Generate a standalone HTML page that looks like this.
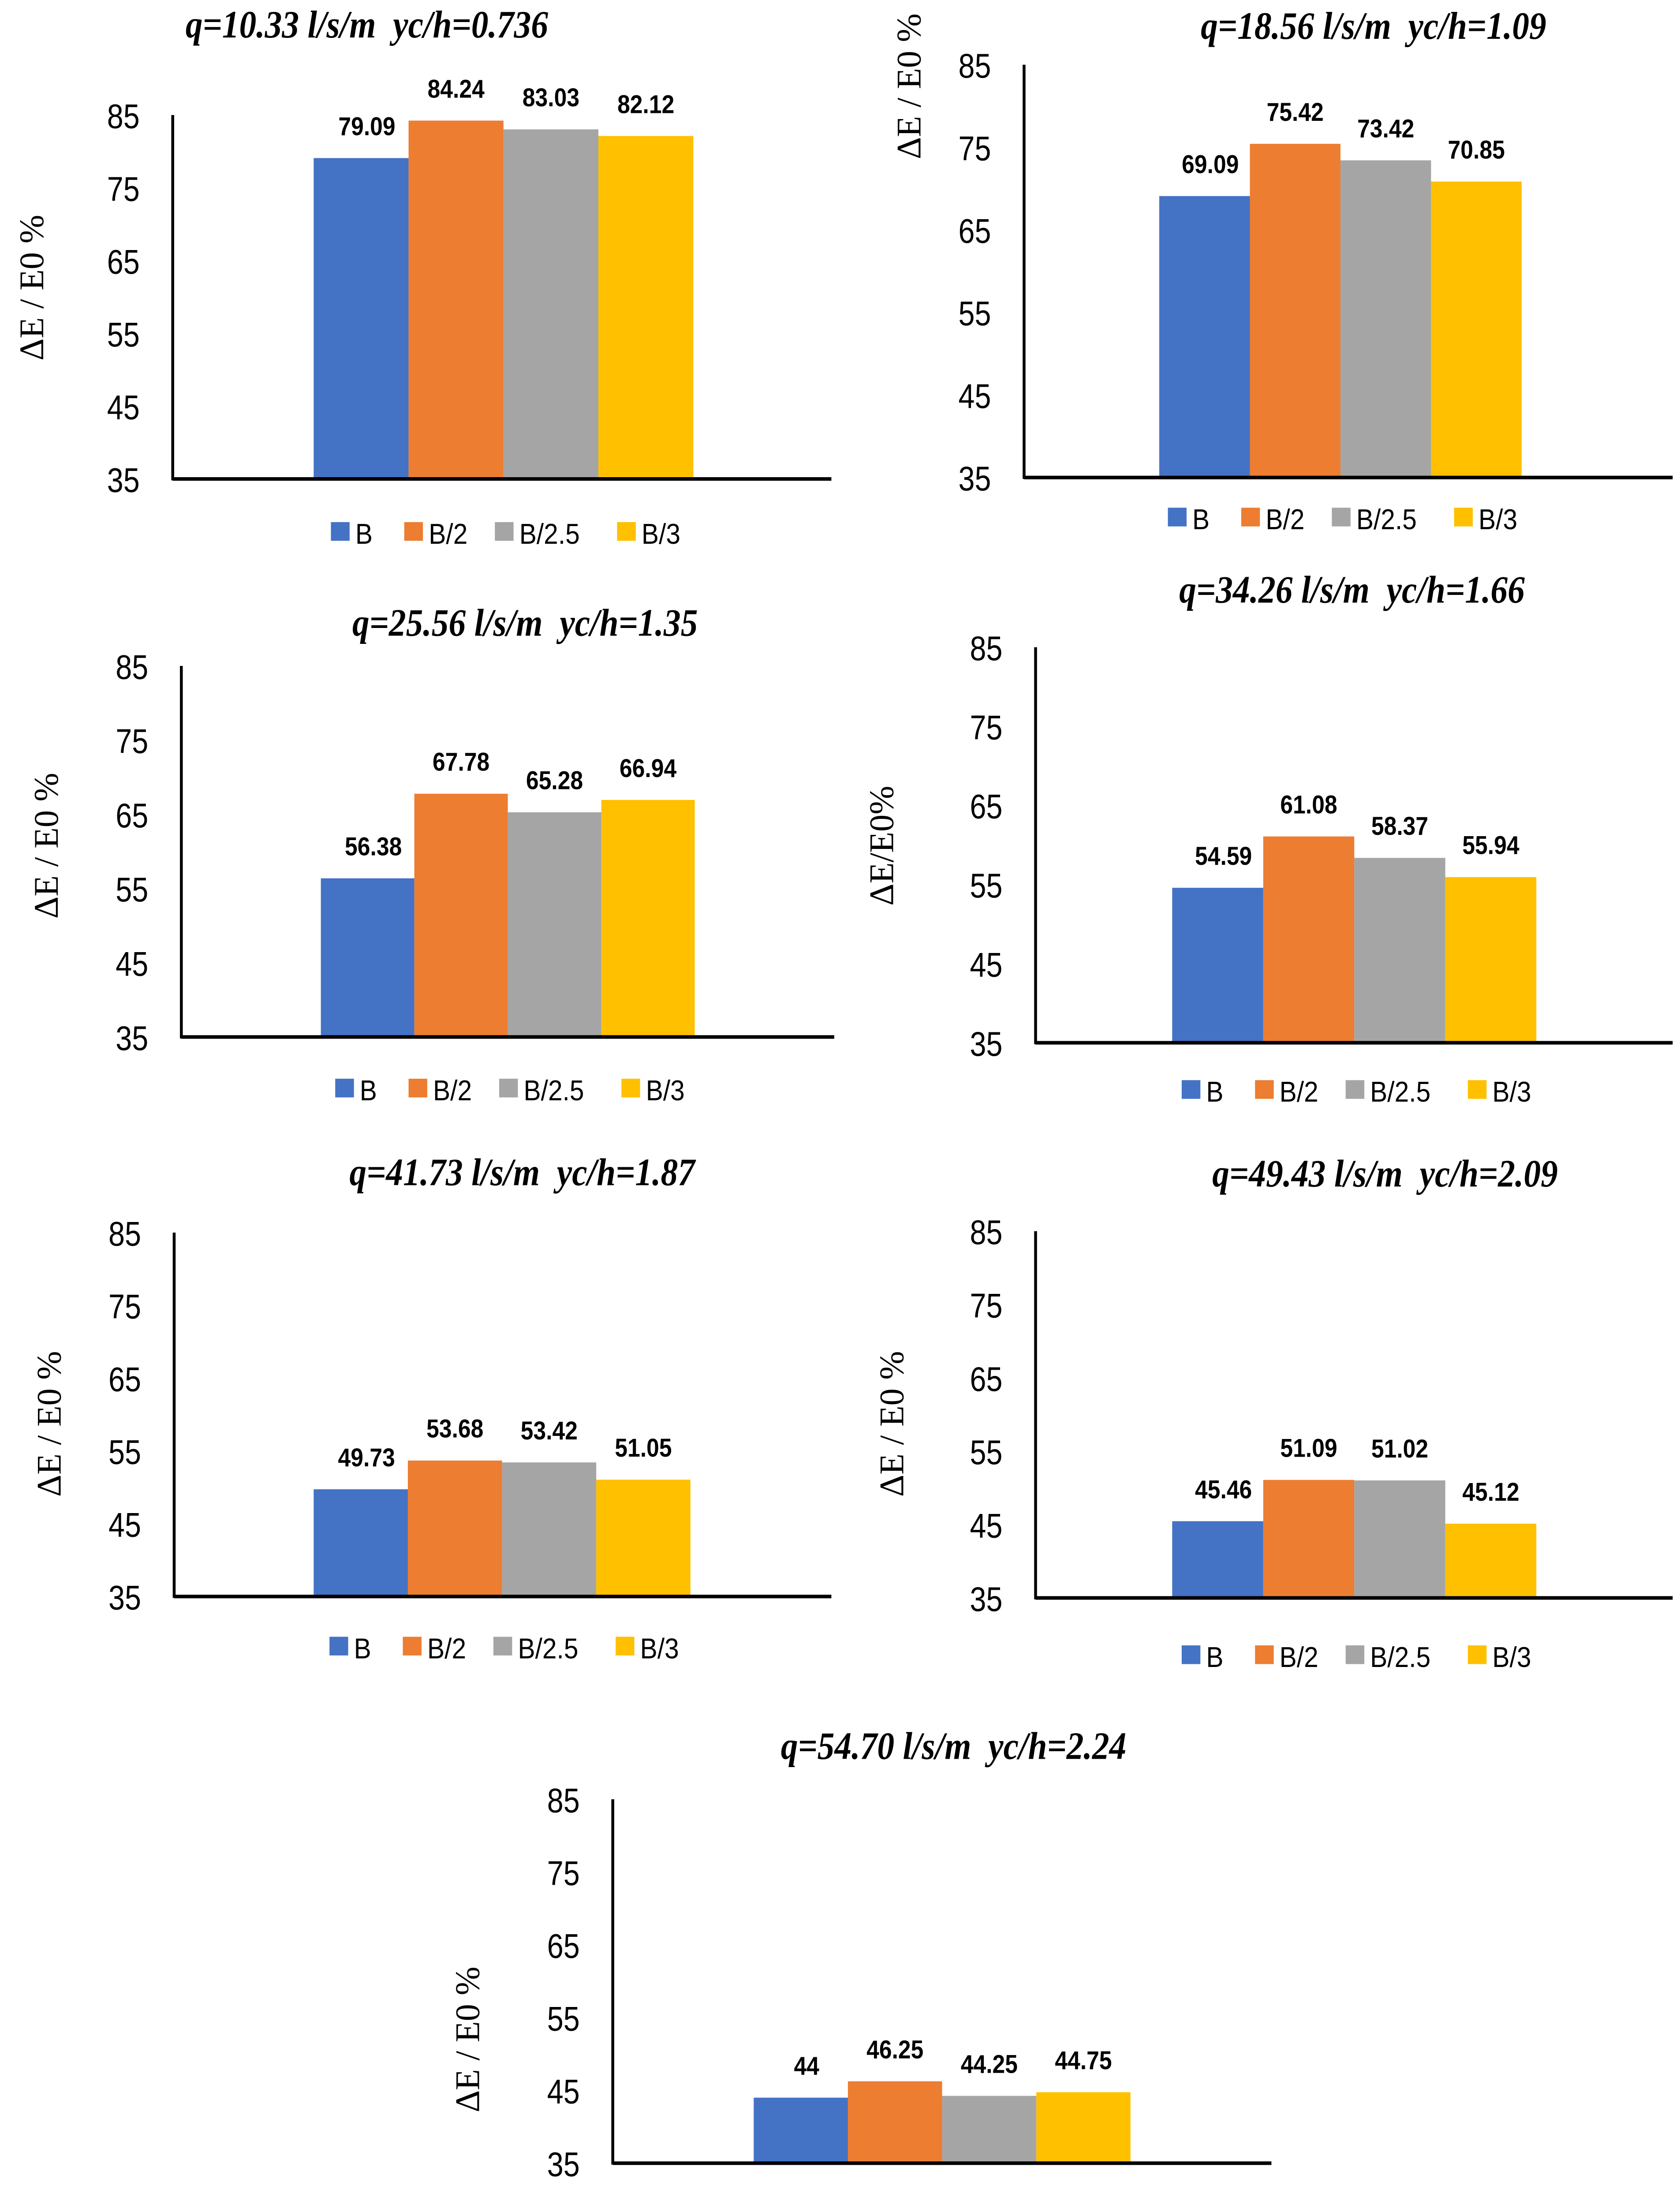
<!DOCTYPE html>
<html><head><meta charset="utf-8">
<style>
html,body{margin:0;padding:0;background:#fff;overflow:hidden;width:3810px;height:5078px;}
svg{display:block;}
text{white-space:pre;}
</style></head>
<body>
<svg id="fig" width="3810" height="5078" viewBox="0 0 1168 1557" xmlns="http://www.w3.org/2000/svg"></svg>
<script>
const categories = ["B","B/2","B/2.5","B/3"];
const seriesB   = [79.09, 69.09, 56.38, 54.59, 49.73, 45.46, 44];
const seriesB2  = [84.24, 75.42, 67.78, 61.08, 53.68, 51.09, 46.25];
const seriesB25 = [83.03, 73.42, 65.28, 58.37, 53.42, 51.02, 44.25];
const seriesB3  = [82.12, 70.85, 66.94, 55.94, 51.05, 45.12, 44.75];
const yTicks = [35,45,55,65,75,85];
const titles = ["q=10.33 l/s/m  yc/h=0.736","q=18.56 l/s/m  yc/h=1.09","q=25.56 l/s/m  yc/h=1.35","q=34.26 l/s/m  yc/h=1.66","q=41.73 l/s/m  yc/h=1.87","q=49.43 l/s/m  yc/h=2.09","q=54.70 l/s/m  yc/h=2.24"];
const yTitles = ["ΔE / E0 %","ΔE / E0 %","ΔE / E0 %","ΔE/E0%","ΔE / E0 %","ΔE / E0 %","ΔE / E0 %"];

const colors = ["#4472C4","#ED7D31","#A5A5A5","#FFC000"];
const layout = [
 {ax:120,top:80,bot:333,right:578,b0:218,bw:66,tx:255,ty:26,lx:30,ly:200,lg:370},
 {ax:712,top:45,bot:332,right:1163,b0:806,bw:63,tx:955,ty:27,lx:640,ly:60,lg:360},
 {ax:126,top:463,bot:721,right:580,b0:223,bw:65,tx:365,ty:442,lx:40,ly:588,lg:757},
 {ax:720,top:450,bot:725,right:1163,b0:815,bw:63.3,tx:940,ty:419,lx:621,ly:588,lg:758},
 {ax:121,top:857,bot:1110,right:578,b0:218,bw:65.5,tx:363,ty:824,lx:42,ly:990,lg:1145},
 {ax:720,top:856,bot:1111,right:1163,b0:815,bw:63.3,tx:963,ty:825,lx:628,ly:990,lg:1151},
 {ax:426,top:1251,bot:1504,right:884,b0:524,bw:65.5,tx:663,ty:1223,lx:333,ly:1418,lg:1548}
];
const svg = document.getElementById('fig');
const NS = "http://www.w3.org/2000/svg";
function mk(tag, attrs, parent){const e=document.createElementNS(NS,tag);for(const k in attrs)e.setAttribute(k,attrs[k]);(parent||svg).appendChild(e);return e;}
function stxt(parent,x,y,sx,attrs,str){
  const e=mk('text',Object.assign({x:0,y:0,transform:`translate(${x},${y}) scale(${sx},1)`},attrs),parent);
  e.textContent=str;return e;
}
const allSeries=[seriesB,seriesB2,seriesB25,seriesB3];
const legW=[51,63,85,0];

layout.forEach((L,ci)=>{
  const g=mk('g',{});
  
  
  const yMin=yTicks[0], yMax=yTicks[yTicks.length-1];
  const ys=v=>L.bot-(v-yMin)/(yMax-yMin)*(L.bot-L.top);
  const t=stxt(g,L.tx,L.ty,0.88,{'text-anchor':'middle','font-family':'Liberation Serif, serif','font-style':'italic','font-weight':'bold','font-size':27},titles[ci]);
  
  
  yTicks.forEach(v=>{
    const tl=stxt(g,L.ax-23,ys(v)+9,0.85,{'text-anchor':'end','font-family':'Liberation Sans, sans-serif','font-size':24,fill:'#000'},String(v));
    
    
  });
  const yl=mk('text',{x:0,y:0,transform:`translate(${L.lx},${L.ly}) rotate(-90)`,'text-anchor':'middle','font-family':'Liberation Serif, serif','font-size':24},g);
  yl.textContent=yTitles[ci];
  
  
  categories.forEach((c,si)=>{
    const v=allSeries[si][ci];
    const x=L.b0+si*L.bw;
    const r=mk('rect',{x:x,y:ys(v),width:L.bw,height:L.bot-ys(v),fill:colors[si]},g);
    
    
    const lb=stxt(g,x+L.bw/2+(si===0?4:0),ys(v)-16,0.88,{'text-anchor':'middle','font-family':'Liberation Sans, sans-serif','font-weight':'bold','font-size':18},String(v));
    
    
  });
  const ya=mk('line',{x1:L.ax,y1:L.top,x2:L.ax,y2:L.bot+1,stroke:'#000','stroke-width':2},g);
  
  
  const xa=mk('line',{x1:L.ax,y1:L.bot,x2:L.right,y2:L.bot,stroke:'#000','stroke-width':2.5},g);
  
  
  const center=L.b0+2*L.bw;
  let lx=center-120;
  categories.forEach((c,si)=>{
    const sq=mk('rect',{x:lx,y:L.lg-7,width:13,height:13,fill:colors[si]},g);
    
    
    const lt=stxt(g,lx+17,L.lg+8,0.9,{'font-family':'Liberation Sans, sans-serif','font-size':20},c);
    
    
    lx+=legW[si];
  });
});
</script>
</body></html>
